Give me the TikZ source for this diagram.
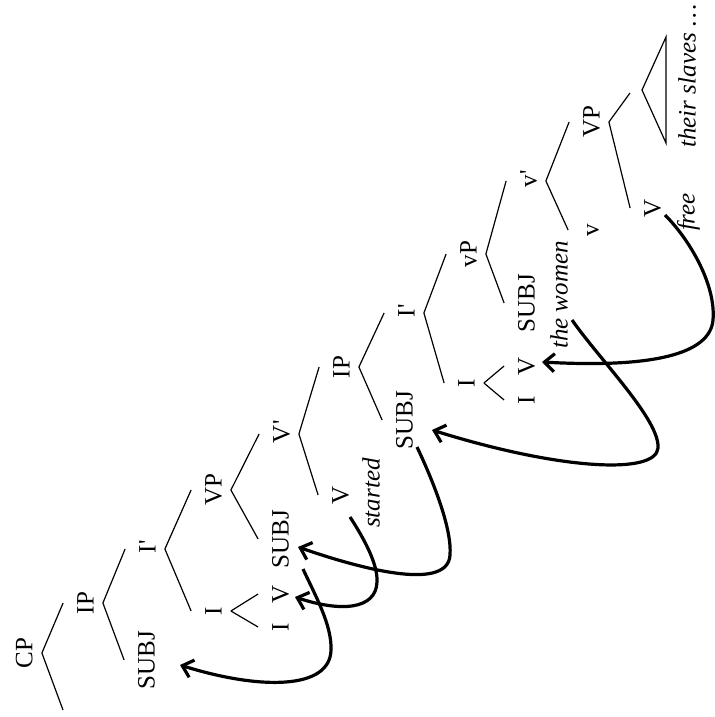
\documentclass[tikz,border=0pt]{standalone}
\usepackage{fontspec}
\setmainfont{Liberation Serif}
\usetikzlibrary{arrows.meta,calc}
\begin{document}
\begin{tikzpicture}[x=0.5pt,y=-0.5pt,
  lbl/.style={rotate=90, inner sep=0pt, text height=8.5pt, text depth=0pt,
              font=\fontsize{12.5}{15}\selectfont},
  wrd/.style={lbl, font=\fontsize{12.5}{15}\selectfont\itshape},
  branch/.style={line width=0.6pt},
  move/.style={line width=1.6pt, -{Straight Barb[length=5pt,width=9pt,line width=1.6pt]}}]
\useasboundingbox (0,0) rectangle (715,717);

% labels of the tree (text runs bottom to top)
\newcommand\barlevel[1]{#1\rlap{\textquotesingle}}
\node[lbl] (CP)     at (24,653)  {CP};
\node[lbl] (IPa)    at (85,603)  {IP};
\node[lbl] (SUBJa)  at (146,660) {SUBJ};
\node[lbl] (Iba)    at (147,549) {\barlevel{I}};
\node[lbl] (Ia)     at (213,611) {I};
\node[lbl] (VPa)    at (213,490) {VP};
\node[lbl] (Iaa)    at (280,627) {I};
\node[lbl] (Va)     at (280,594) {V};
\node[lbl] (SUBJb)  at (280,539) {SUBJ};
\node[lbl] (Vb)     at (281,434) {\barlevel{V}};
\node[lbl] (Vc)     at (340,495) {V};
\node[wrd] (started) at (371,493) {started};
\node[lbl] (IPb)    at (341,367) {IP};
\node[lbl] (SUBJc)  at (404,420) {SUBJ};
\node[lbl] (Ibb)    at (406,313) {\barlevel{I}};
\node[lbl] (Ib)     at (466,383) {I};
\node[lbl] (vP)     at (468,254) {vP};
\node[lbl] (Ibbb)   at (526,400) {I};
\node[lbl] (Vd)     at (526,366) {V};
\node[lbl] (SUBJd)  at (526,303) {SUBJ};
\node[wrd] (women)  at (559,295) {the women};
\node[lbl] (vb)     at (528,181) {\barlevel{v}};
\node[lbl] (vhead)  at (590,230) {v};
\node[lbl] (VPb)    at (591,122) {VP};
\node[lbl] (Ve)     at (652,208) {V};
\node[wrd] (free)   at (686,212) {free};
\node[wrd, anchor=west] (slaves) at (687,148) {their slaves \dots};

\coordinate (cpleft) at (63,710);
\coordinate (apex) at (642,90);

% branches: from just past the mother label to just before the daughter label
\newcommand\treeedge[2]{\draw[branch] ([xshift=4.5pt]#1.south) -- ([xshift=-6.5pt]#2.north);}
\draw[branch] ([xshift=4.5pt]CP.south) -- (cpleft);
\treeedge{CP}{IPa}
\treeedge{IPa}{SUBJa}
\treeedge{IPa}{Iba}
\treeedge{Iba}{Ia}
\treeedge{Iba}{VPa}
\treeedge{Ia}{Iaa}
\treeedge{Ia}{Va}
\treeedge{VPa}{SUBJb}
\treeedge{VPa}{Vb}
\treeedge{Vb}{Vc}
\treeedge{Vb}{IPb}
\treeedge{IPb}{SUBJc}
\treeedge{IPb}{Ibb}
\treeedge{Ibb}{Ib}
\treeedge{Ibb}{vP}
\treeedge{Ib}{Ibbb}
\treeedge{Ib}{Vd}
\treeedge{vP}{SUBJd}
\treeedge{vP}{vb}
\treeedge{vb}{vhead}
\treeedge{vb}{VPb}
\treeedge{VPb}{Ve}
\draw[branch] ([xshift=4.5pt]VPb.south) -- ($(apex)+(-12,3)$);
\draw[branch] (apex) -- (666,37) -- (666,143) -- cycle;

% movement arrows
\draw[move] ($(SUBJb)+(23,30)$) .. controls (315,595) and (332,625) .. (331,650)
            .. controls (330,690) and (260,690) .. ($(SUBJa)+(34,5)$);
\draw[move] ($(Vc)+(10,22)$) .. controls (365,540) and (378,565) .. (377,582)
            .. controls (376,610) and (340,612) .. ($(Va)+(15,3)$);
\draw[move] ($(SUBJc)+(13,27)$) .. controls (435,485) and (452,530) .. (450,555)
            .. controls (448,590) and (370,572) .. ($(SUBJb)+(18,8)$);
\draw[move] ($(women)+(13,25)$) .. controls (600,360) and (660,420) .. (658,448)
            .. controls (656,475) and (560,470) .. ($(SUBJc)+(28,10)$);
\draw[move] ($(Ve)+(13,7)$) .. controls (690,240) and (716,285) .. (713,320)
            .. controls (710,355) and (650,368) .. ($(Vd)+(16,-4)$);
\end{tikzpicture}
\end{document}
